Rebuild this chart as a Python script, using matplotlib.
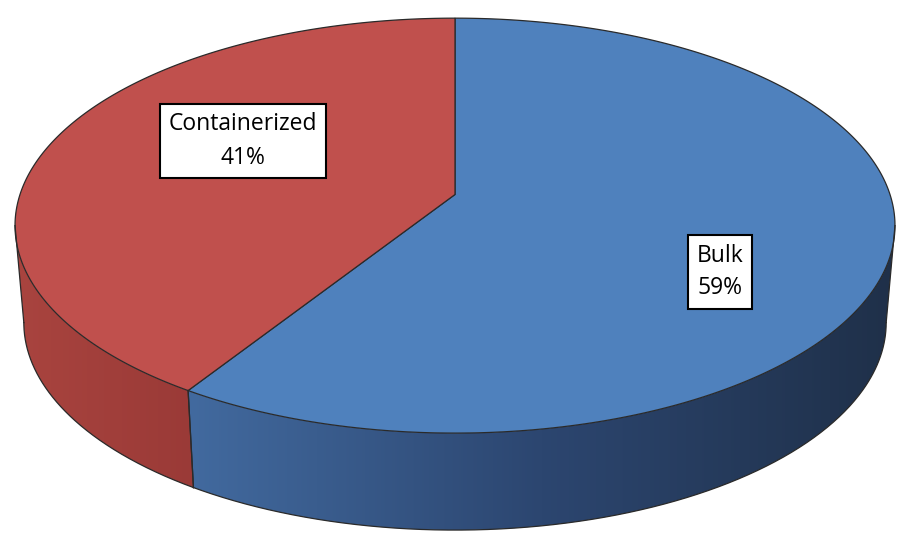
import numpy as np
import matplotlib
matplotlib.use("Agg")
import matplotlib.pyplot as plt
from matplotlib.patches import Polygon
from matplotlib.colors import LinearSegmentedColormap

# ---- data ----
categories = ["Bulk", "Containerized"]
shares = [59, 41]
top_colors = ["#4F81BD", "#C0504D"]
side_colors = [["#426a9f", "#2c4670", "#1f3049"], ["#a9443f", "#9a3a37"]]
label_pos = [(720, 272), (243, 141)]

# ---- geometry (pixel space, mild perspective) ----
cx, cy, A, B, kp, depth, shrink = 455, 194.5, 435, 202.8, 0.15, 97, 0.98

fig = plt.figure(figsize=(8.99, 5.4), dpi=100)
ax = fig.add_axes([0, 0, 1, 1])
ax.set_xlim(0, 899)
ax.set_ylim(540, 0)
ax.axis("off")

def pt(t, bottom=False):
    X, Z = np.cos(t), np.sin(t)
    d = 1 + kp * Z
    x = cx + A * X / d
    y = cy - B * Z / d
    if bottom:
        x = cx + (x - cx) * shrink
        y = y + depth
    return x, y

edge_c = "#2a2a2a"
start = np.pi / 2
total = float(sum(shares))
ranges = []
ang = start
for v in shares:
    sweep = 2 * np.pi * v / total
    ranges.append((ang - sweep, ang))  # clockwise
    ang -= sweep

ts_all = np.linspace(0, 2 * np.pi, 20001)
xs_all, _ = pt(ts_all)
t_right = ts_all[np.argmax(xs_all)]
t_left = ts_all[np.argmin(xs_all)]
front_lo = t_left
front_hi = t_right if t_right > t_left else t_right + 2 * np.pi

# sides
for i, (t1, t2) in enumerate(ranges):
    for k in range(-1, 2):
        lo = max(t1, front_lo + 2 * np.pi * k)
        hi = min(t2, front_hi + 2 * np.pi * k)
        if hi <= lo:
            continue
        ts = np.linspace(lo, hi, 300)
        xt, yt = pt(ts)
        xb, yb = pt(ts[::-1], bottom=True)
        poly = np.column_stack([np.r_[xt, xb], np.r_[yt, yb]])
        patch = Polygon(poly, closed=True, facecolor="none", edgecolor="none")
        ax.add_patch(patch)
        x0, x1 = poly[:, 0].min(), poly[:, 0].max()
        cmap = LinearSegmentedColormap.from_list("s%d" % i, side_colors[i])
        grad = np.linspace(0, 1, 256).reshape(1, -1)
        im = ax.imshow(grad, cmap=cmap, aspect="auto",
                       extent=(x0, x1, poly[:, 1].max(), poly[:, 1].min()),
                       zorder=1, interpolation="bilinear")
        im.set_clip_path(patch)
        ax.plot(xb, yb, color=edge_c, lw=0.9, zorder=3)
        for tt in (lo, hi):
            xa, ya = pt(tt)
            xz, yz = pt(tt, bottom=True)
            ax.plot([xa, xz], [ya, yz], color=edge_c, lw=0.9, zorder=3)

ax.set_xlim(0, 899)
ax.set_ylim(540, 0)

# top wedges
for i, (t1, t2) in enumerate(ranges):
    ts = np.linspace(t1, t2, 400)
    xs, ys = pt(ts)
    poly = np.column_stack([np.r_[cx, xs], np.r_[cy, ys]])
    ax.add_patch(Polygon(poly, closed=True, facecolor=top_colors[i],
                         edgecolor=edge_c, lw=0.9, zorder=2))

# labels
for i, name in enumerate(categories):
    ax.text(label_pos[i][0], label_pos[i][1], f"{name}\n{shares[i]}%",
            ha="center", va="center", fontsize=16.5, family="Open Sans",
            linespacing=1.5, color="black", zorder=5,
            bbox=dict(boxstyle="square,pad=0.38", fc="white", ec="black", lw=1.5))

fig.savefig("out.png", dpi=100)
